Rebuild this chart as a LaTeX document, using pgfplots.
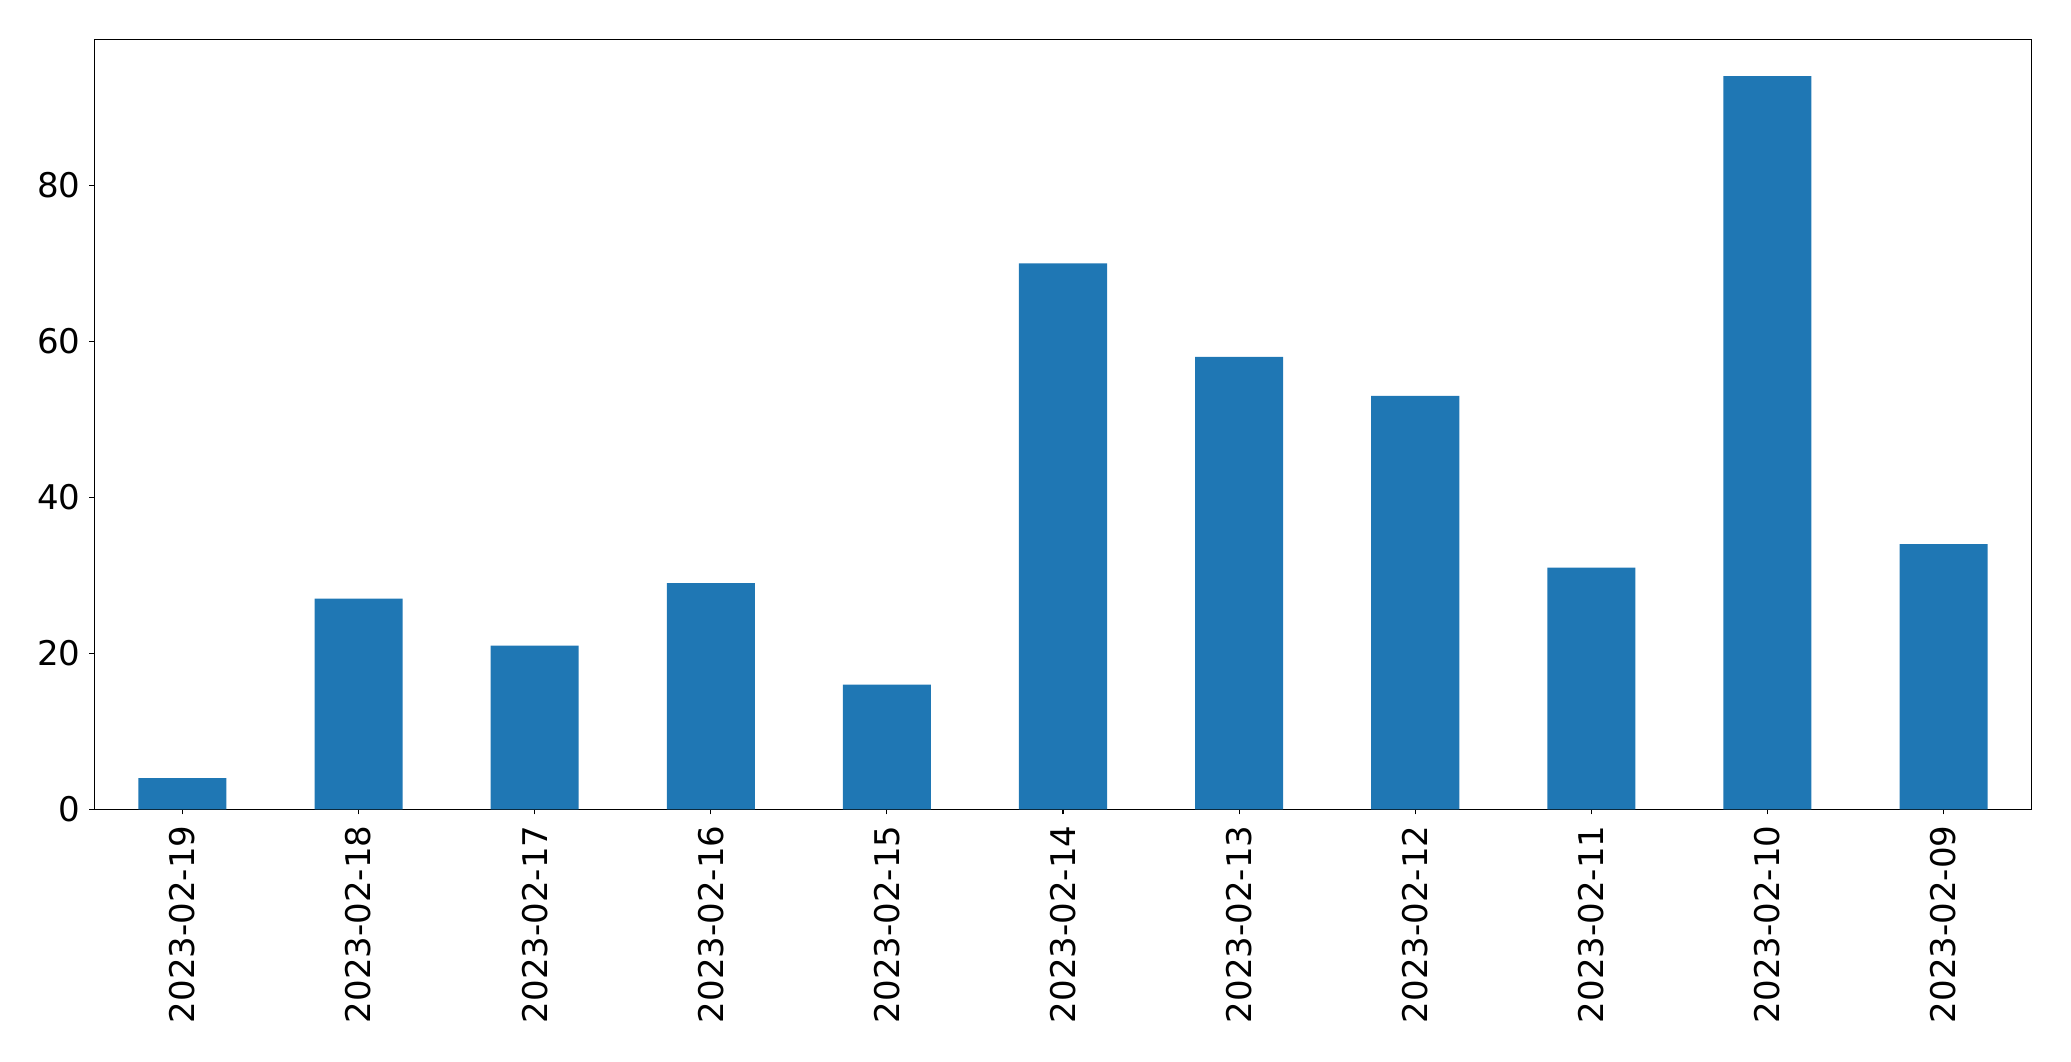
\documentclass[border=0pt]{standalone}
\usepackage{fontspec}
\setmainfont{DejaVu Sans}
\usepackage{pgfplots}
\pgfplotsset{compat=1.18}
\definecolor{mplblue}{HTML}{1F77B4}
\begin{document}
\begin{tikzpicture}
\begin{axis}[
  scale only axis,
  width=968.7pt, height=385pt,
  xmin=-0.5, xmax=10.5,
  ymin=0, ymax=98.7,
  axis line style={line width=0.55pt},
  xtick={0,1,2,3,4,5,6,7,8,9,10},
  xticklabels={2023-02-19,2023-02-18,2023-02-17,2023-02-16,2023-02-15,2023-02-14,2023-02-13,2023-02-12,2023-02-11,2023-02-10,2023-02-09},
  ytick={0,20,40,60,80},
  tick align=outside,
  major tick length=2.5pt,
  tick style={line width=0.55pt, black},
  xtick pos=bottom, ytick pos=left,
  /pgf/number format/assume math mode=true,
  tick label style={font=\fontsize{17}{20}\selectfont},
  xticklabel style={rotate=90, anchor=east, inner sep=0pt, xshift=-5.4pt},
  yticklabel style={inner sep=0pt, xshift=-4.2pt},
]
\addplot[ybar, bar width=0.5, fill=mplblue, draw=none] coordinates {
(0,4) (1,27) (2,21) (3,29) (4,16) (5,70) (6,58) (7,53) (8,31) (9,94) (10,34)
};
\end{axis}
\pgfresetboundingbox
\path ([xshift=-47.2pt,yshift=-126pt]current axis.south west) rectangle ([xshift=19.7pt,yshift=19.7pt]current axis.north east);
\end{tikzpicture}
\end{document}
